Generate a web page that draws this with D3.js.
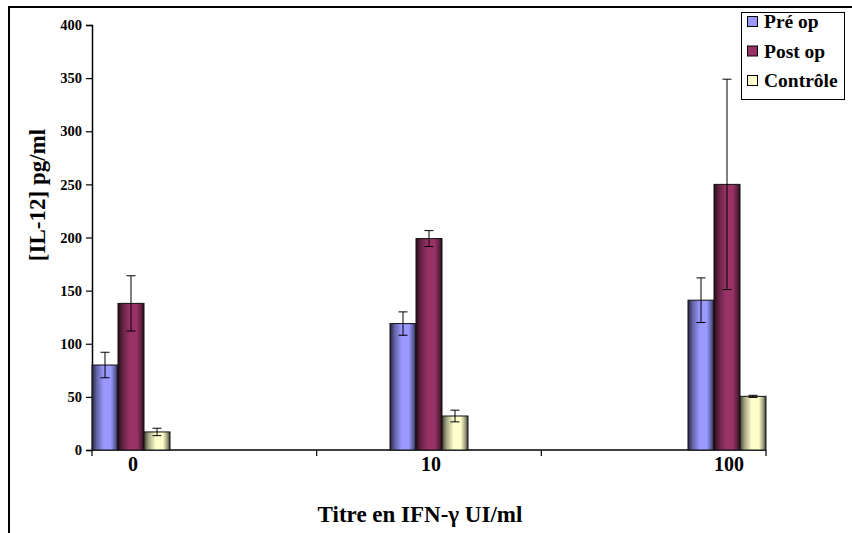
<!DOCTYPE html>
<html>
<head>
<meta charset="utf-8">
<script src="https://cdn.jsdelivr.net/npm/d3@7/dist/d3.min.js"></script>
<style>
  html, body { margin: 0; padding: 0; background: #fff; }
  svg { display: block; font-family: "Liberation Serif", "Times New Roman", serif; }
</style>
</head>
<body>
<svg id="chart" width="852" height="533"></svg>
<script>
// IL-12 concentration by IFN-γ titre, for three groups (mean ± error)
const categories = ["0", "10", "100"];
const seriesNames = ["Pré op", "Post op", "Contrôle"];
const preOp = [80, 119, 141];
const preOpErr = [12, 11, 21];
const postOp = [138, 199, 250];
const postOpErr = [26, 7.5, 99];
const controle = [17, 32, 50.5];
const controleErr = [3.5, 5.5, 1];
const yTicks = [0, 50, 100, 150, 200, 250, 300, 350, 400];
const seriesColors = ["#9999FF", "#993366", "#FFFFCC"];

const seriesValues = [preOp, postOp, controle];
const seriesErrors = [preOpErr, postOpErr, controleErr];

const svg = d3.select("#chart");

// outer frame (partly outside the visible area)
svg.append("rect")
  .attr("x", 9).attr("y", 7)
  .attr("width", 900).attr("height", 600)
  .attr("fill", "none").attr("stroke", "#000").attr("stroke-width", 2);

const plot = { left: 92, right: 766, top: 25, bottom: 450 };

const y = d3.scaleLinear().domain([0, 400]).range([plot.bottom, plot.top]);

// groups of bars: first group flush with the y axis, last flush with the axis end
const groupWidth = 78;
const step = (plot.right - plot.left - groupWidth) / (categories.length - 1);
const x0 = d3.scaleBand()
  .domain(categories)
  .range([plot.left, plot.right])
  .paddingInner(1 - groupWidth / step)
  .paddingOuter(0);
const x1 = d3.scaleBand()
  .domain(seriesNames)
  .range([0, x0.bandwidth()])
  .padding(0);

// horizontal shading gradients for the bars
const defs = svg.append("defs");
seriesColors.forEach((c, i) => {
  const base = d3.color(c);
  const dark = d3.interpolateRgb(base, "#000")(0.75);
  const mid = d3.interpolateRgb(base, "#000")(0.35);
  const g = defs.append("linearGradient")
    .attr("id", "grad" + i)
    .attr("x1", "0%").attr("x2", "100%").attr("y1", "0%").attr("y2", "0%");
  g.append("stop").attr("offset", "0%").attr("stop-color", dark);
  g.append("stop").attr("offset", "18%").attr("stop-color", mid);
  g.append("stop").attr("offset", "45%").attr("stop-color", c);
  g.append("stop").attr("offset", "72%").attr("stop-color", c);
  g.append("stop").attr("offset", "88%").attr("stop-color", mid);
  g.append("stop").attr("offset", "100%").attr("stop-color", dark);
});

// y axis
const yAxis = d3.axisLeft(y).tickValues(yTicks).tickSize(6).tickPadding(4);
const gy = svg.append("g")
  .attr("transform", `translate(${plot.left},0)`)
  .call(yAxis);
gy.select(".domain").attr("stroke", "#000").attr("stroke-width", 1.5);
gy.selectAll(".tick line").attr("stroke", "#000").attr("stroke-width", 1.2);
gy.selectAll(".tick text")
  .attr("fill", "#000")
  .style("font-family", "'Liberation Serif', 'Times New Roman', serif")
  .style("font-weight", "bold")
  .style("font-size", "14.5px");

// x axis line with evenly spaced ticks
const xt = d3.scaleLinear().domain([0, 3]).range([plot.left, plot.right]);
svg.append("line")
  .attr("x1", plot.left).attr("x2", plot.right)
  .attr("y1", plot.bottom).attr("y2", plot.bottom)
  .attr("stroke", "#000").attr("stroke-width", 1.5);
svg.selectAll(".xtick")
  .data([0, 1, 2, 3])
  .enter().append("line")
  .attr("class", "xtick")
  .attr("x1", d => xt(d)).attr("x2", d => xt(d))
  .attr("y1", plot.bottom).attr("y2", plot.bottom + 6)
  .attr("stroke", "#000").attr("stroke-width", 1.2);

// category labels
svg.selectAll(".xlabel")
  .data(categories)
  .enter().append("text")
  .attr("class", "xlabel")
  .attr("x", d => x0(d) + x0.bandwidth() / 2 + 2)
  .attr("y", 471)
  .attr("text-anchor", "middle")
  .style("font-weight", "bold")
  .style("font-size", "20px")
  .text(d => d);

// bars
const groups = svg.selectAll(".grp")
  .data(categories)
  .enter().append("g")
  .attr("class", "grp")
  .attr("transform", d => `translate(${x0(d)},0)`);

seriesNames.forEach((s, si) => {
  groups.append("rect")
    .attr("x", () => x1(s))
    .attr("y", (d, ci) => y(seriesValues[si][ci]))
    .attr("width", x1.bandwidth())
    .attr("height", (d, ci) => y(0) - y(seriesValues[si][ci]))
    .attr("fill", `url(#grad${si})`)
    .attr("stroke", "#111")
    .attr("stroke-width", 1);
});

// error bars
const cap = 4.5;
seriesNames.forEach((s, si) => {
  groups.each(function (d, ci) {
    const g = d3.select(this);
    const cx = x1(s) + x1.bandwidth() / 2;
    const v = seriesValues[si][ci], e = seriesErrors[si][ci];
    const yt = y(v + e), yb = y(v - e);
    g.append("line").attr("x1", cx).attr("x2", cx).attr("y1", yt).attr("y2", yb)
      .attr("stroke", "#000").attr("stroke-width", 1);
    [yt, yb].forEach(yy => {
      g.append("line").attr("x1", cx - cap).attr("x2", cx + cap).attr("y1", yy).attr("y2", yy)
        .attr("stroke", "#000").attr("stroke-width", 1);
    });
  });
});

// axis titles
svg.append("text")
  .attr("transform", "translate(45,195) rotate(-90)")
  .attr("text-anchor", "middle")
  .style("font-weight", "bold")
  .style("font-size", "23px")
  .text("[IL-12] pg/ml");

svg.append("text")
  .attr("x", 420).attr("y", 522)
  .attr("text-anchor", "middle")
  .style("font-weight", "bold")
  .style("font-size", "23px")
  .text("Titre en IFN-γ UI/ml");

// legend
const legend = svg.append("g");
legend.append("rect")
  .attr("x", 741.5).attr("y", 12.5)
  .attr("width", 103).attr("height", 87)
  .attr("fill", "#fff").attr("stroke", "#000").attr("stroke-width", 1);
const rows = legend.selectAll(".lg")
  .data(seriesNames)
  .enter().append("g")
  .attr("class", "lg")
  .attr("transform", (d, i) => `translate(0,${28 + i * 29.5})`);
rows.append("rect")
  .attr("x", 747.5).attr("y", -11.5)
  .attr("width", 10).attr("height", 10)
  .attr("fill", (d, i) => seriesColors[i])
  .attr("stroke", "#000").attr("stroke-width", 1);
rows.append("text")
  .attr("x", 764).attr("y", 0)
  .style("font-weight", "bold")
  .style("font-size", "19.5px")
  .text(d => d);
</script>
</body>
</html>
